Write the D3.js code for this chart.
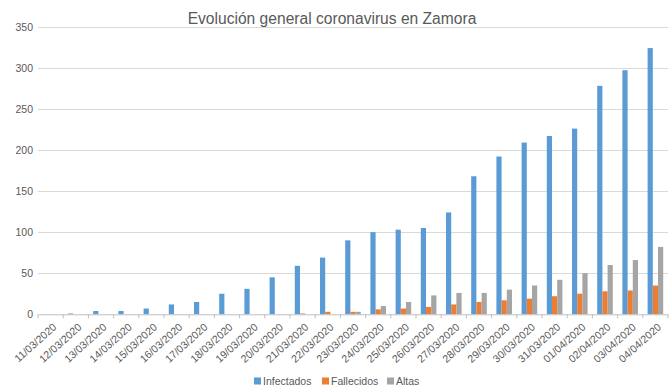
<!DOCTYPE html>
<html>
<head>
<meta charset="utf-8">
<script src="https://cdn.jsdelivr.net/npm/d3@7"></script>
<style>
  body { margin: 0; background: #fff; }
  svg { display: block; font-family: "Liberation Sans", Arial, sans-serif; }
</style>
</head>
<body>
<div id="chart"></div>
<script>
// data
var fechas = ["11/03/2020","12/03/2020","13/03/2020","14/03/2020","15/03/2020","16/03/2020",
  "17/03/2020","18/03/2020","19/03/2020","20/03/2020","21/03/2020","22/03/2020","23/03/2020",
  "24/03/2020","25/03/2020","26/03/2020","27/03/2020","28/03/2020","29/03/2020","30/03/2020",
  "31/03/2020","01/04/2020","02/04/2020","03/04/2020","04/04/2020"];
var infectados = [0,1,4,4,7,12,15,25,31,45,59,69,90,100,103,105,124,168,192,209,217,226,278,297,324];
var fallecidos = [0,0,0,0,0,0,0,0,0,0,1,3,3,6,7,9,12,15,17,19,22,25,28,29,35];
var altas      = [0,0,0,0,0,0,0,0,0,0,0,0,3,10,15,23,26,26,30,35,42,50,60,66,82];
var series = ["Infectados","Fallecidos","Altas"];
var yTicks = [0,50,100,150,200,250,300,350];

var colores = {"Infectados":"#5B9BD5","Fallecidos":"#ED7D31","Altas":"#A5A5A5"};

var width = 670, height = 386;
var mLeft = 38, mRight = 668, mTop = 26.7, mBottom = 314.3;

var svg = d3.select('#chart').append('svg')
    .attr('width', width)
    .attr('height', height);

// table built from the arrays
var filas = fechas.map(function(f, i){
    return {fecha: f, Infectados: infectados[i], Fallecidos: fallecidos[i], Altas: altas[i]};
});

var x0 = d3.scaleBand().domain(fechas).range([mLeft, mRight]).padding(0);
var bw = x0.bandwidth();
var grupo = 15.6;
var x1 = d3.scaleBand().domain(series).range([(bw - grupo)/2, (bw + grupo)/2]).padding(0);
var y = d3.scaleLinear().domain([0, 350]).range([mBottom, mTop]);

//gridlines
svg.append('g').selectAll('line').data(yTicks.slice(1)).enter()
    .append('line')
    .attr('x1', mLeft).attr('x2', mRight)
    .attr('y1', function(d){ return Math.round(y(d)) + 0.5; })
    .attr('y2', function(d){ return Math.round(y(d)) + 0.5; })
    .attr('stroke', '#D9D9D9').attr('stroke-width', 1);

// y axis labels
var yAxis = d3.axisLeft(y).tickValues(yTicks).tickSize(0).tickPadding(5);
var gy = svg.append('g').attr('transform', 'translate(' + mLeft + ',0)').call(yAxis);
gy.select('.domain').remove();
gy.selectAll('text').attr('fill', '#595959').style('font-size', '10.5px')
    .style('font-family', '"Liberation Sans", Arial, sans-serif');

// bars
var cats = svg.append('g').selectAll('g').data(filas).enter()
    .append('g')
    .attr('transform', function(d){ return 'translate(' + x0(d.fecha) + ',0)'; });
cats.selectAll('rect')
    .data(function(d){ return series.map(function(s){ return {serie: s, valor: d[s]}; }); })
    .enter().append('rect')
    .attr('x', function(d){ return x1(d.serie); })
    .attr('width', x1.bandwidth())
    .attr('y', function(d){ return y(d.valor); })
    .attr('height', function(d){ return mBottom - y(d.valor); })
    .attr('fill', function(d){ return colores[d.serie]; });

// x axis
var xAxis = d3.axisBottom(x0).tickSize(0).tickPadding(4);
var gx = svg.append('g').attr('transform', 'translate(0,' + mBottom + ')').call(xAxis);
gx.select('.domain').attr('stroke', '#BFBFBF');
// tick marks between categories
gx.selectAll('.sep').data(fechas.concat(['fin'])).enter()
    .append('line')
    .attr('class', 'sep')
    .attr('x1', function(d, i){ return mLeft + i * bw; })
    .attr('x2', function(d, i){ return mLeft + i * bw; })
    .attr('y1', 0).attr('y2', 4)
    .attr('stroke', '#BFBFBF');
gx.selectAll('.tick text')
    .attr('fill', '#595959')
    .style('font-size', '10.5px')
    .style('font-family', '"Liberation Sans", Arial, sans-serif')
    .attr('text-anchor', 'end')
    .attr('x', 0).attr('y', 0)
    .attr('dy', '0.35em')
    .attr('transform', 'translate(4,11) rotate(-42)');

// title
svg.append('text')
    .attr('x', 332).attr('y', 24)
    .attr('text-anchor', 'middle')
    .attr('fill', '#595959')
    .style('font-size', '15.6px')
    .style('font-family', '"Liberation Sans", Arial, sans-serif')
    .text('Evolución general coronavirus en Zamora');

// legend
var legX = [254, 322, 387];
var leg = svg.append('g').selectAll('g').data(series).enter()
    .append('g')
    .attr('transform', function(d, i){ return 'translate(' + legX[i] + ',381)'; });
leg.append('rect').attr('x', 0).attr('y', -3.5).attr('width', 7).attr('height', 7)
    .attr('fill', function(d){ return colores[d]; });
leg.append('text').attr('x', 9).attr('y', 0).attr('dy', '0.35em')
    .attr('fill', '#595959')
    .style('font-size', '10.5px')
    .text(function(d){ return d; });
</script>
</body>
</html>
